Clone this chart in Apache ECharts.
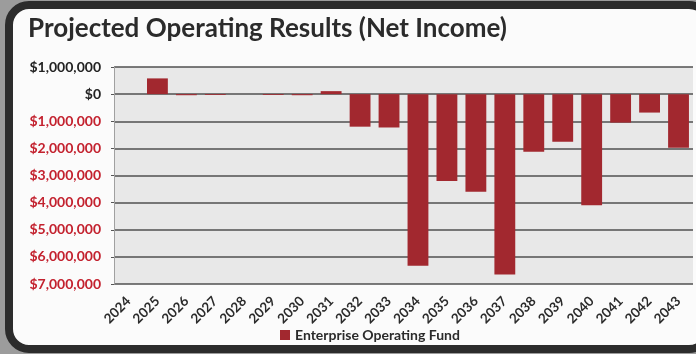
<!DOCTYPE html>
<html>
<head>
<meta charset="utf-8">
<script src="https://cdn.jsdelivr.net/npm/echarts@6/dist/echarts.min.js"></script>
<style>
  html, body { margin: 0; padding: 0; background: #9c9c9c; }
  #chart { width: 696px; height: 354px; }
</style>
</head>
<body>
<div id="chart"></div>
<script>
// Fiscal years and projected net income for the enterprise fund
const years = ['2024','2025','2026','2027','2028','2029','2030','2031','2032','2033',
               '2034','2035','2036','2037','2038','2039','2040','2041','2042','2043'];
const netIncome = [0, 580000, -40000, -30000, 0, -30000, -40000, 110000, -1200000, -1230000,
                   -6330000, -3200000, -3600000, -6650000, -2120000, -1760000, -4100000, -1050000, -680000, -1980000];
const seriesName = 'Enterprise Operating Fund';
const titleText = 'Projected Operating Results (Net Income)';

const FONT = 'Lato, "Open Sans", sans-serif';
const barColor = '#a2282f';
const negColor = '#c3212e';

function money(v) {
  return '$' + Math.abs(v).toLocaleString('en-US');
}

const chart = echarts.init(document.getElementById('chart'), null, { renderer: 'canvas' });
chart.setOption({
  backgroundColor: '#9c9c9c',
  animation: false,
  graphic: [
    {
      type: 'rect',
      z: -10,
      silent: true,
      shape: { x: 9, y: 5, width: 700, height: 344, r: 20 },
      style: { fill: '#fbfbfb', stroke: '#2c2c2c', lineWidth: 8 }
    },
    {
      type: 'text',
      left: 28,
      top: 16,
      style: {
        text: titleText,
        font: 'bold 26px ' + FONT,
        fill: '#2b2b2b'
      }
    }
  ],
  grid: {
    left: 114, right: 3, top: 67, bottom: 70,
    show: true,
    backgroundColor: '#e8e8e8',
    borderWidth: 0
  },
  legend: {
    data: [seriesName],
    bottom: 7,
    left: 275,
    itemWidth: 10,
    itemHeight: 10,
    itemGap: 5,
    icon: 'rect',
    textStyle: { fontFamily: FONT, fontWeight: 'bold', fontSize: 14, color: '#2b2b2b' }
  },
  xAxis: {
    type: 'category',
    data: years,
    axisLine: { show: false },
    axisTick: { show: false },
    axisLabel: {
      interval: 0,
      rotate: 45,
      margin: 15,
      fontFamily: FONT,
      fontWeight: 'bold',
      fontSize: 13.5,
      color: '#2b2b2b'
    }
  },
  yAxis: {
    type: 'value',
    min: -7000000,
    max: 1000000,
    interval: 1000000,
    axisLine: { show: true, lineStyle: { color: '#a0a0a0', width: 1 } },
    axisTick: { show: true, length: 3, lineStyle: { color: '#555' } },
    splitLine: { show: true, lineStyle: { color: '#505050', width: 1.5 } },
    axisLabel: {
      margin: 13,
      fontFamily: FONT,
      fontWeight: 'bold',
      fontSize: 14,
      formatter: money,
      color: function (v) { return Number(v) < 0 ? negColor : '#222'; }
    }
  },
  series: [{
    name: seriesName,
    type: 'bar',
    data: netIncome,
    barWidth: '72%',
    itemStyle: { color: barColor }
  }]
});
</script>
</body>
</html>
